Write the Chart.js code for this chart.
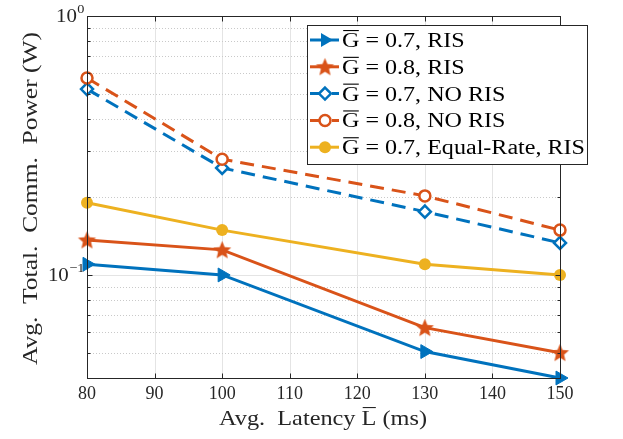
<!DOCTYPE html>
<html>
<head>
<meta charset="utf-8">
<script src="https://cdn.jsdelivr.net/npm/chart.js@4/dist/chart.umd.min.js"></script>
<style>
html, body { margin: 0; padding: 0; background: #fff; }
</style>
</head>
<body>
<canvas id="chart" width="623" height="439"></canvas>
<script>
// values
const latency = [80, 100, 130, 150];
const risG07 = [0.110, 0.100, 0.0506, 0.0400];
const risG08 = [0.1365, 0.125, 0.0626, 0.0501];
const noRisG07 = [0.522, 0.259, 0.1756, 0.133];
const noRisG08 = [0.576, 0.280, 0.202, 0.149];
const equalRateG07 = [0.190, 0.149, 0.110, 0.100];

const xTicks = [80, 90, 100, 110, 120, 130, 140, 150];
const yMajor = [0.1, 1];
const yMinor = [0.04, 0.05, 0.06, 0.07, 0.08, 0.09, 0.2, 0.3, 0.4, 0.5, 0.6, 0.7, 0.8, 0.9];
const yTickText = [['10', '\u22121'], ['10', '0']];
const legendText = [' = 0.7, RIS', ' = 0.8, RIS', ' = 0.7, NO RIS', ' = 0.8, NO RIS', ' = 0.7, Equal-Rate, RIS'];
const xTitle = [{ t: 'Avg.  Latency ' }, { t: 'L', over: true }, { t: ' (ms)' }];
const yTitle = 'Avg.  Total.  Comm.  Power (W)';

const blue = '#0072BD';
const red = '#D95319';
const yellow = '#EDB120';
const ink = '#262626';
const serif = "'Liberation Serif', 'DejaVu Serif', serif";

// filled pentagram, Chart.js has no filled star
function starImage(r, color){
    const c = document.createElement('canvas');
    const s = Math.ceil(r * 2 + 4);
    c.width = s; c.height = s;
    const g = c.getContext('2d');
    g.beginPath();
    for(let i = 0; i < 10; i++){
        const rad = i % 2 === 0 ? r : r * 0.45;
        const a = -Math.PI / 2 + i * Math.PI / 5;
        g.lineTo(s / 2 + rad * Math.cos(a), s / 2 + rad * Math.sin(a) + 0.8);
    }
    g.closePath();
    g.fillStyle = color;
    g.fill();
    return c;
}
const star = starImage(9.5, red);

function pts(arr){ return latency.map((x, i) => ({ x, y: arr[i] })); }

const series = [
    { label: 'G' + legendText[0], data: pts(risG07), borderColor: blue, backgroundColor: blue, pointStyle: 'triangle', rotation: 90, pointRadius: 8, pointBorderWidth: 1, order: 5 },
    { label: 'G' + legendText[1], data: pts(risG08), borderColor: red, backgroundColor: red, pointStyle: star, pointRadius: 9, order: 4 },
    { label: 'G' + legendText[2], data: pts(noRisG07), borderColor: blue, backgroundColor: '#fff', borderDash: [14, 8], pointStyle: 'rectRot', pointRadius: 6, pointBorderWidth: 2.5, order: 3 },
    { label: 'G' + legendText[3], data: pts(noRisG08), borderColor: red, backgroundColor: '#fff', borderDash: [14, 8], pointStyle: 'circle', pointRadius: 5.5, pointBorderWidth: 2.5, order: 2 },
    { label: 'G' + legendText[4], data: pts(equalRateG07), borderColor: yellow, backgroundColor: yellow, pointStyle: 'circle', pointRadius: 6, pointBorderWidth: 0, order: 1 }
];
series.forEach(s => { s.borderWidth = 3; s.tension = 0; s.fill = false; s.clip = false; s.pointHoverRadius = s.pointRadius; });

function crisp(v){ return Math.round(v) + 0.5; }

// Liberation Serif is narrower than the LaTeX font, so text is stretched to the measured width
function richWidth(ctx, parts){ return parts.reduce((w, p) => w + ctx.measureText(p.t).width, 0); }
function drawRich(ctx, parts, x, y, sx, fs){
    ctx.save();
    ctx.translate(x, y);
    ctx.scale(sx, 1);
    let cx = 0;
    parts.forEach(p => {
        ctx.fillText(p.t, cx, 0);
        const w = ctx.measureText(p.t).width;
        if(p.over) ctx.fillRect(cx + 1, Math.round(-fs * 0.66 - 4), w - 1.5, 1.1);
        cx += w;
    });
    ctx.restore();
}

function drawMarker(ctx, s, x, y){
    ctx.save();
    ctx.translate(x, y);
    if(s.pointStyle === star){
        ctx.drawImage(star, -star.width / 2, -star.height / 2);
    } else if(s.pointStyle === 'triangle'){
        const r = s.pointRadius;
        ctx.beginPath();
        ctx.moveTo(r, 0);
        ctx.lineTo(-r / 2, -r * 0.866);
        ctx.lineTo(-r / 2, r * 0.866);
        ctx.closePath();
        ctx.fillStyle = s.backgroundColor; ctx.fill();
    } else if(s.pointStyle === 'rectRot'){
        const r = s.pointRadius;
        ctx.beginPath();
        ctx.moveTo(0, -r); ctx.lineTo(r, 0); ctx.lineTo(0, r); ctx.lineTo(-r, 0);
        ctx.closePath();
        ctx.fillStyle = '#fff'; ctx.fill();
        ctx.lineWidth = s.pointBorderWidth; ctx.strokeStyle = s.borderColor; ctx.stroke();
    } else {
        ctx.beginPath();
        ctx.arc(0, 0, s.pointRadius, 0, Math.PI * 2);
        ctx.fillStyle = s.backgroundColor; ctx.fill();
        if(s.pointBorderWidth){ ctx.lineWidth = s.pointBorderWidth; ctx.strokeStyle = s.borderColor; ctx.stroke(); }
    }
    ctx.restore();
}

const matlabAxes = {
    id: 'matlabAxes',
    beforeDatasetsDraw(chart){
        const { ctx, chartArea: a, scales: { x, y } } = chart;
        ctx.save();
        ctx.lineWidth = 1;
        ctx.strokeStyle = '#e4e4e4';
        xTicks.forEach(v => {
            const px = crisp(x.getPixelForValue(v));
            ctx.beginPath(); ctx.moveTo(px, a.top); ctx.lineTo(px, a.bottom); ctx.stroke();
        });
        yMajor.forEach(v => {
            const py = crisp(y.getPixelForValue(v));
            ctx.beginPath(); ctx.moveTo(a.left, py); ctx.lineTo(a.right, py); ctx.stroke();
        });
        ctx.strokeStyle = '#c9c9c9';
        ctx.setLineDash([1, 2]);
        yMinor.forEach(v => {
            const py = crisp(y.getPixelForValue(v));
            ctx.beginPath(); ctx.moveTo(a.left, py); ctx.lineTo(a.right, py); ctx.stroke();
        });
        ctx.restore();
    },
    afterDatasetsDraw(chart){
        const { ctx, chartArea: a, scales: { x, y } } = chart;
        ctx.save();
        ctx.strokeStyle = ink;
        ctx.lineWidth = 1;
        const L = crisp(a.left), R = crisp(a.right), T = crisp(a.top), B = crisp(a.bottom);
        ctx.strokeRect(L, T, R - L, B - T);
        ctx.beginPath();
        xTicks.forEach(v => {
            const px = crisp(x.getPixelForValue(v));
            ctx.moveTo(px, B); ctx.lineTo(px, B - 5);
            ctx.moveTo(px, T); ctx.lineTo(px, T + 5);
        });
        yMajor.concat(yMinor).forEach(v => {
            const py = crisp(y.getPixelForValue(v));
            const len = yMajor.includes(v) ? 5 : 3;
            ctx.moveTo(L, py); ctx.lineTo(L + len, py);
            ctx.moveTo(R, py); ctx.lineTo(R - len, py);
        });
        ctx.stroke();
        ctx.restore();
    },
    afterDraw(chart){
        const { ctx, chartArea: a, scales: { y } } = chart;
        ctx.save();
        ctx.fillStyle = ink;
        ctx.textBaseline = 'alphabetic';
        ctx.textAlign = 'left';
        // log tick labels with superscripts
        yMajor.forEach((v, i) => {
            const py = y.getPixelForValue(v);
            const [base, sup] = yTickText[i];
            ctx.font = '19px ' + serif;
            const w1 = ctx.measureText(base).width * 1.1;
            ctx.font = '13px ' + serif;
            const w2 = ctx.measureText(sup).width * 1.1;
            const x0 = a.left - 3 - w2 - w1;
            ctx.font = '19px ' + serif;
            drawRich(ctx, [{ t: base }], x0, py + 6, 1.1, 19);
            ctx.font = '13px ' + serif;
            drawRich(ctx, [{ t: sup }], x0 + w1 + 0.5, py - 3, 1.1, 13);
        });
        // axis titles
        ctx.font = '21px ' + serif;
        const xw = richWidth(ctx, xTitle);
        drawRich(ctx, xTitle, 219, 425, 208 / xw, 21);
        ctx.save();
        ctx.translate(37, 365);
        ctx.rotate(-Math.PI / 2);
        drawRich(ctx, [{ t: yTitle }], 0, 0, 333 / ctx.measureText(yTitle).width, 21);
        ctx.restore();
        // legend
        const bx = 307.5, by = 25.5, bw = 280, bh = 139;
        ctx.fillStyle = '#fff';
        ctx.fillRect(bx, by, bw, bh);
        ctx.strokeStyle = ink;
        ctx.lineWidth = 1;
        ctx.strokeRect(bx, by, bw, bh);
        ctx.font = '20px ' + serif;
        const longest = Math.max(...legendText.map(t => richWidth(ctx, [{ t: 'G' }, { t }])));
        const lsx = 243 / longest;
        series.forEach((s, i) => {
            const ry = 40 + i * 26.8;
            ctx.save();
            ctx.strokeStyle = s.borderColor;
            ctx.lineWidth = 3;
            ctx.setLineDash(s.borderDash || []);
            ctx.beginPath(); ctx.moveTo(310, ry); ctx.lineTo(339, ry); ctx.stroke();
            ctx.setLineDash([]);
            drawMarker(ctx, s, 325, ry);
            ctx.restore();
            ctx.fillStyle = '#000';
            drawRich(ctx, [{ t: 'G', over: true }, { t: legendText[i] }], 342, ry + 7, lsx, 20);
        });
        ctx.restore();
    }
};

new Chart(document.getElementById('chart'), {
    type: 'line',
    data: { datasets: series },
    options: {
        responsive: false,
        animation: false,
        devicePixelRatio: 1,
        layout: { padding: { top: 16, right: 63, left: 0, bottom: 0 } },
        plugins: { legend: { display: false }, tooltip: { enabled: false } },
        scales: {
            x: {
                type: 'linear', min: 80, max: 150,
                afterBuildTicks: s => { s.ticks = xTicks.map(v => ({ value: v })); },
                afterFit: s => { s.height = 61; },
                grid: { display: false, drawTicks: false },
                border: { display: false },
                ticks: { color: ink, padding: 5, maxRotation: 0, font: { family: serif, size: 18 } }
            },
            y: {
                type: 'logarithmic', min: 0.04, max: 1,
                afterFit: s => { s.width = 87; },
                grid: { display: false, drawTicks: false },
                border: { display: false },
                ticks: { display: false }
            }
        }
    },
    plugins: [matlabAxes]
});
</script>
</body>
</html>
